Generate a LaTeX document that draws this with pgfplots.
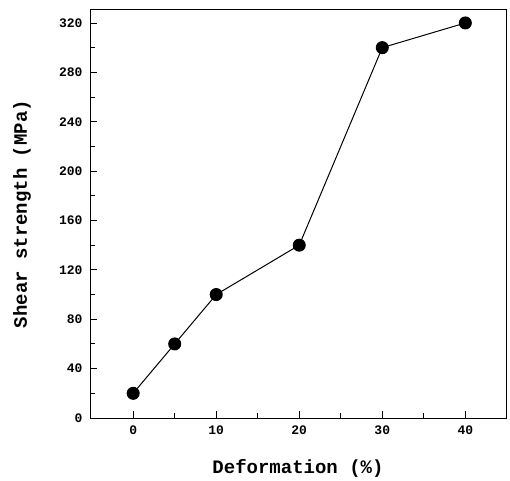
\documentclass[border=0pt]{standalone}
\usepackage{pgfplots}
\pgfplotsset{compat=1.18}
\usepackage{fontspec}
\setmainfont{Liberation Mono}
\begin{document}
\begin{tikzpicture}
\begin{axis}[
  scale only axis,
  width=416pt, height=408pt,
  xmin=-5.2, xmax=44.9,
  ymin=0, ymax=330.5,
  xtick={0,10,20,30,40},
  ytick={0,40,...,320},
  minor x tick num=1,
  minor y tick num=1,
  xtick pos=bottom, ytick pos=left,
  tick align=inside,
  major tick length=7pt,
  minor tick length=5pt,
  axis line style={line width=1pt},
  tick style={line width=0.9pt, black},
  tick label style={font=\bfseries\fontsize{13}{15}\selectfont},
  yticklabel style={xshift=-4pt},
  xticklabel style={yshift=-4pt},
  /pgf/number format/assume math mode=true,
  xlabel={Deformation (\%)},
  ylabel={Shear strength (MPa)},
  label style={font=\bfseries\fontsize{19}{21}\selectfont},
  xlabel style={at={(axis description cs:0.5,-0.1225)}, anchor=center},
  ylabel style={at={(axis description cs:-0.1635,0.5)}, anchor=center},
  clip=false,
]
\addplot[black, line width=1pt, mark=*, mark size=6pt]
  coordinates {(0,20) (5,60) (10,100) (20,140) (30,300) (40,320)};
\end{axis}
\useasboundingbox ([shift={(-90pt,-61pt)}]current axis.south west) rectangle ([shift={(4pt,10pt)}]current axis.north east);
\end{tikzpicture}
\end{document}
